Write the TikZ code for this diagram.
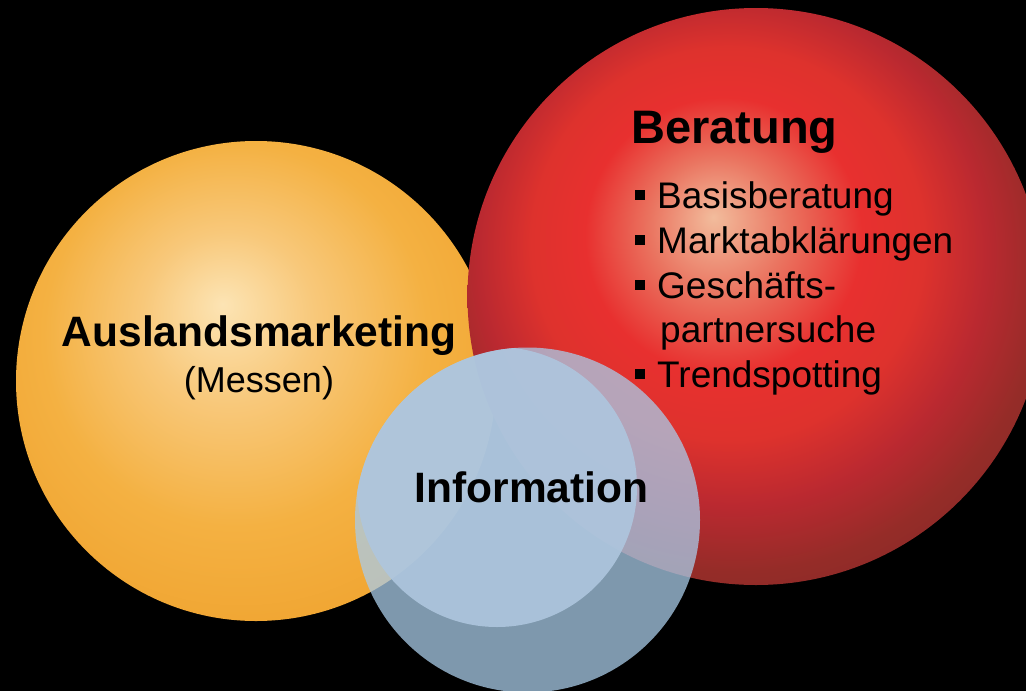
\documentclass[tikz,border=0pt]{standalone}
\usepackage{fontspec}
\setmainfont{Liberation Sans}
\usepackage{tikz}
\usepackage{xcolor}
\definecolor{orhi}{HTML}{FCE4B4}
\definecolor{ormid}{HTML}{F8C87A}
\definecolor{orlo}{HTML}{F4B142}
\definecolor{oredge}{HTML}{EFA02B}
\definecolor{rdhi}{HTML}{F2BC9C}
\definecolor{rdpk}{HTML}{EA7460}
\definecolor{rdbr}{HTML}{E8302F}
\definecolor{rdmd}{HTML}{DE322D}
\definecolor{rdcr}{HTML}{BA2930}
\definecolor{rdbn}{HTML}{952C28}
\definecolor{rddk}{HTML}{852927}
\definecolor{bluout}{HTML}{A9CBE8}
\definecolor{bluin}{HTML}{AEC6DE}
% sphere shadings, highlight up left
\pgfdeclareradialshading{orangeball}{\pgfpoint{-3.5bp}{8bp}}{%
  color(0bp)=(orhi); color(9bp)=(ormid); color(20bp)=(orlo);
  color(34bp)=(oredge); color(50bp)=(oredge)}
\pgfdeclareradialshading{redball}{\pgfpoint{-3.7bp}{6.9bp}}{%
  color(0bp)=(rdhi); color(6bp)=(rdpk); color(12bp)=(rdbr);
  color(17bp)=(rdmd); color(22bp)=(rdcr); color(27bp)=(rdbn); color(32bp)=(rddk); color(50bp)=(rddk)}
\newcommand\sqbullet{\rule[8pt]{10pt}{10pt}\hspace{12pt}}

\begin{document}
\begin{tikzpicture}[x=1pt,y=-1pt,
    title/.style={font=\fontsize{47}{47}\selectfont\bfseries,inner sep=0,anchor=base west},
    head/.style={font=\fontsize{42.5}{42.5}\selectfont\bfseries,inner sep=0,anchor=base},
    sub/.style={font=\fontsize{36}{36}\selectfont,inner sep=0,anchor=base},
    item/.style={font=\fontsize{37}{37}\selectfont,inner sep=0,anchor=base west}]
  \def\ro{240}
  \def\rr{288.5}
  \def\rb{172.5}
  \useasboundingbox (0,0) rectangle (1026,691);
  \clip (0,0) rectangle (1026,691);
  \fill[black] (0,0) rectangle (1026,691);
  % Spheres
  \shade[shading=orangeball] (256,381) circle (\ro);
  \shade[shading=redball] (756,296.5) circle (\rr);
  % Blue sphere: see-through rim, light core
  \fill[bluout,fill opacity=.75] (527.5,520) circle (\rb);
  \begin{scope}
    \clip (527.5,520) circle (\rb);
    \fill[bluin,fill opacity=.9] (497,487) circle (140);
  \end{scope}
  % Labels
  \node[head] (aus) at (259,346) {Auslandsmarketing};
  \node[sub] (messen) at (259,392) {(Messen)};
  \node[head] (info) at (531.5,502) {Information};
  \node[title] (ber) at (631,143) {Beratung};
  % Bullet list
  \foreach \y/\t [count=\n] in {208/Basisberatung,253/Marktabklärungen,298/Geschäfts-,387/Trendspotting}
    \node[item] (item\n) at (635,\y) {\sqbullet\t};
  \node[item] (item5) at (660,342) {partnersuche};
\end{tikzpicture}
\end{document}
